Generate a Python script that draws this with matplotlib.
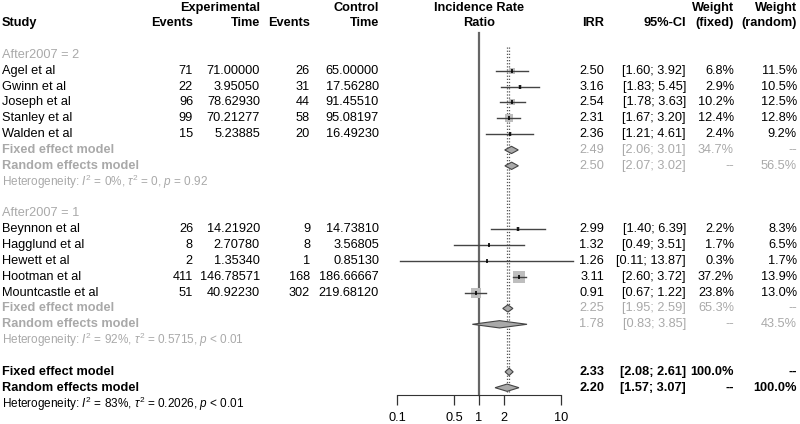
import matplotlib
matplotlib.use("Agg")
import matplotlib.pyplot as plt
import numpy as np

plt.rcParams["font.family"] = ["Liberation Sans", "DejaVu Sans"]
plt.rcParams["mathtext.fontset"] = "custom"
plt.rcParams["mathtext.rm"] = "Liberation Sans"
plt.rcParams["mathtext.it"] = "Liberation Sans:italic"

# ---- data -------------------------------------------------------------
grp2_studies = ["Agel et al", "Gwinn et al", "Joseph et al", "Stanley et al", "Walden et al"]
grp2_e_events = [71, 22, 96, 99, 15]
grp2_e_time = ["71.00000", "3.95050", "78.62930", "70.21277", "5.23885"]
grp2_c_events = [26, 31, 44, 58, 20]
grp2_c_time = ["65.00000", "17.56280", "91.45510", "95.08197", "16.49230"]
grp2_irr = [2.50, 3.16, 2.54, 2.31, 2.36]
grp2_lo = [1.60, 1.83, 1.78, 1.67, 1.21]
grp2_hi = [3.92, 5.45, 3.63, 3.20, 4.61]
grp2_wf = [6.8, 2.9, 10.2, 12.4, 2.4]
grp2_wr = [11.5, 10.5, 12.5, 12.8, 9.2]
grp2_fixed = (2.49, 2.06, 3.01, "34.7%", "--")
grp2_random = (2.50, 2.07, 3.02, "--", "56.5%")
grp2_het = r"Heterogeneity: $I^2$ = 0%, $\tau^2$ = 0, $p$ = 0.92"

grp1_studies = ["Beynnon et al", "Hagglund et al", "Hewett et al", "Hootman et al", "Mountcastle et al"]
grp1_e_events = [26, 8, 2, 411, 51]
grp1_e_time = ["14.21920", "2.70780", "1.35340", "146.78571", "40.92230"]
grp1_c_events = [9, 8, 1, 168, 302]
grp1_c_time = ["14.73810", "3.56805", "0.85130", "186.66667", "219.68120"]
grp1_irr = [2.99, 1.32, 1.26, 3.11, 0.91]
grp1_lo = [1.40, 0.49, 0.11, 2.60, 0.67]
grp1_hi = [6.39, 3.51, 13.87, 3.72, 1.22]
grp1_wf = [2.2, 1.7, 0.3, 37.2, 23.8]
grp1_wr = [8.3, 6.5, 1.7, 13.9, 13.0]
grp1_fixed = (2.25, 1.95, 2.59, "65.3%", "--")
grp1_random = (1.78, 0.83, 3.85, "--", "43.5%")
grp1_het = r"Heterogeneity: $I^2$ = 92%, $\tau^2$ = 0.5715, $p$ < 0.01"

all_fixed = (2.33, 2.08, 2.61, "100.0%", "--")
all_random = (2.20, 1.57, 3.07, "--", "100.0%")
all_het = r"Heterogeneity: $I^2$ = 83%, $\tau^2$ = 0.2026, $p$ < 0.01"

tick_vals = [0.1, 0.5, 1, 2, 10]
tick_labels = ["0.1", "0.5", "1", "2", "10"]

# ---- layout -----------------------------------------------------------
W, H = 800, 424
ROW0, ROWH = 70.7, 15.85          # pixel y of first study row, row height
r_top = -ROW0 / ROWH
r_bot = (H - ROW0) / ROWH
r_axis = (395 - ROW0) / ROWH

GRAY = "#a9a9a9"
FS = 9.2
FS_HET = 8.5

# column right edges (pixels)
X_STUDY = 2
X_EEV, X_ETIME, X_CEV, X_CTIME = 193, 260, 310, 379
X_IRR, X_CI, X_WF, X_WR = 604, 686, 734, 797

fig = plt.figure(figsize=(W / 100, H / 100), dpi=100)
ax_t = fig.add_axes([0, 0, 1, 1])
ax_t.set_xlim(0, W)
ax_t.set_ylim(r_bot, r_top)
ax_t.axis("off")

ax = fig.add_axes([397 / W, 0, (561 - 397) / W, 1])
ax.set_xscale("log")
ax.set_xlim(0.1, 10)
ax.set_ylim(r_bot, r_top)
ax.patch.set_visible(False)
for s in ["top", "right", "left"]:
    ax.spines[s].set_visible(False)
ax.spines["bottom"].set_position(("data", r_axis))
ax.spines["bottom"].set_color("#333333")
ax.set_yticks([])
ax.set_xticks(tick_vals)
ax.set_xticklabels(tick_labels, fontsize=FS)
ax.xaxis.set_minor_locator(matplotlib.ticker.NullLocator())
ax.tick_params(axis="x", direction="out", length=7, width=0.9, color="#333333", pad=5)


def txt(x, r, s, ha="right", color="black", weight="normal", size=FS):
    ax_t.text(x, r, s, ha=ha, va="center", color=color, fontweight=weight, fontsize=size)


# header
hdr = dict(weight="bold")
txt(X_ETIME, -3.96, "Experimental", **hdr)
txt(X_CTIME, -3.96, "Control", **hdr)
txt(479, -3.96, "Incidence Rate", ha="center", **hdr)
txt(X_WF, -3.96, "Weight", **hdr)
txt(X_WR, -3.96, "Weight", **hdr)
txt(X_STUDY, -3.0, "Study", ha="left", **hdr)
txt(X_EEV, -3.0, "Events", **hdr)
txt(X_ETIME, -3.0, "Time", **hdr)
txt(X_CEV, -3.0, "Events", **hdr)
txt(X_CTIME, -3.0, "Time", **hdr)
txt(479, -3.0, "Ratio", ha="center", **hdr)
txt(X_IRR, -3.0, "IRR", **hdr)
txt(X_CI, -3.0, "95%-CI", **hdr)
txt(X_WF, -3.0, "(fixed)", **hdr)
txt(X_WR, -3.0, "(random)", **hdr)


def ci_str(lo, hi):
    return f"[{lo:.2f}; {hi:.2f}]"


def diamond(r, est, lo, hi, half=0.23):
    ax.fill([lo, est, hi, est], [r, r - half, r, r + half], facecolor="#a9a9a9",
            edgecolor="#444444", linewidth=0.8, zorder=4, clip_on=False)


def summary_row(r, label, vals, color, weight):
    est, lo, hi, wf, wr = vals
    txt(X_STUDY, r, label, ha="left", color=color, weight="bold")
    txt(X_IRR, r, f"{est:.2f}", color=color, weight=weight)
    txt(X_CI, r, ci_str(lo, hi), color=color, weight=weight)
    txt(X_WF, r, wf, color=color, weight=weight)
    txt(X_WR, r, wr, color=color, weight=weight)
    diamond(r, est, lo, hi)


def group(r0, title, studies, ee, et, ce, ct, irr, lo, hi, wf, wr, fixed, random, het):
    txt(X_STUDY, r0 - 1, title, ha="left", color=GRAY)
    for i, name in enumerate(studies):
        r = r0 + i
        txt(X_STUDY, r, name, ha="left")
        txt(X_EEV, r, str(ee[i]))
        txt(X_ETIME, r, et[i])
        txt(X_CEV, r, str(ce[i]))
        txt(X_CTIME, r, ct[i])
        txt(X_IRR, r, f"{irr[i]:.2f}")
        txt(X_CI, r, ci_str(lo[i], hi[i]))
        txt(X_WF, r, f"{wf[i]:.1f}%")
        txt(X_WR, r, f"{wr[i]:.1f}%")
        side = 12.7 * np.sqrt(wf[i] / 37.2) * 0.72
        ax.plot([irr[i]], [r], marker="s", markersize=side, color="#bebebe",
                markeredgewidth=0, zorder=2, clip_on=False)
        ax.plot([lo[i], hi[i]], [r, r], color="#444444", lw=1.0, zorder=3, clip_on=False)
        ax.plot([irr[i]], [r], marker="|", markersize=3.5, color="black",
                markeredgewidth=1.2, zorder=3)
    n = len(studies)
    summary_row(r0 + n, "Fixed effect model", fixed, GRAY, "normal")
    summary_row(r0 + n + 1, "Random effects model", random, GRAY, "normal")
    txt(X_STUDY, r0 + n + 2, het, ha="left", color=GRAY, size=FS_HET)


group(0, "After2007 = 2", grp2_studies, grp2_e_events, grp2_e_time, grp2_c_events,
      grp2_c_time, grp2_irr, grp2_lo, grp2_hi, grp2_wf, grp2_wr, grp2_fixed, grp2_random, grp2_het)
group(10, "After2007 = 1", grp1_studies, grp1_e_events, grp1_e_time, grp1_c_events,
      grp1_c_time, grp1_irr, grp1_lo, grp1_hi, grp1_wf, grp1_wr, grp1_fixed, grp1_random, grp1_het)

summary_row(19, "Fixed effect model", all_fixed, "black", "bold")
summary_row(20, "Random effects model", all_random, "black", "bold")
txt(X_STUDY, 21, all_het, ha="left", size=FS_HET)

# reference lines
ax.plot([1, 1], [-2.4, r_axis], color="#666666", lw=1.6, zorder=1)
for est in (all_fixed[0], all_random[0]):
    ax.plot([est, est], [-1.5, 20.3], color="#555555", lw=0.9, ls=(0, (1, 1.5)), zorder=1)

fig.savefig("out.png", dpi=100)
